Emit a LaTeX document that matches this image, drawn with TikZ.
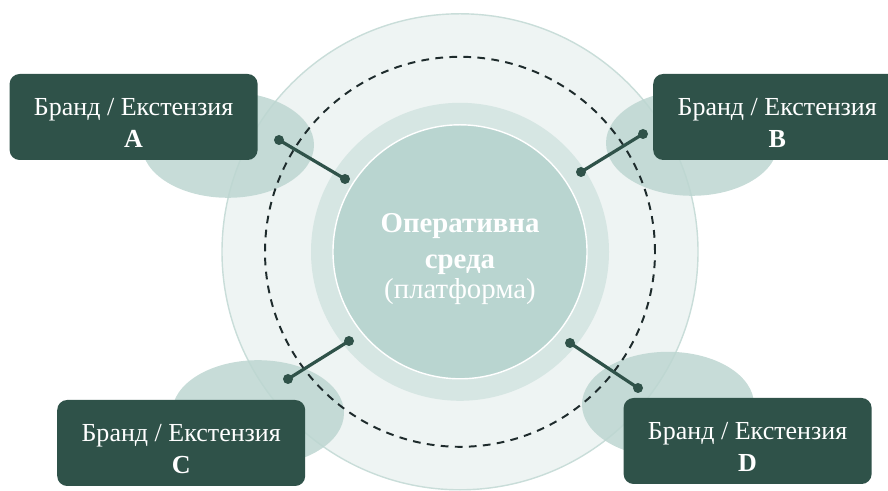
\documentclass[tikz,border=0pt]{standalone}
\usepackage{fontspec}
\setmainfont{Liberation Serif}
\definecolor{boxgreen}{HTML}{2F5249}
\definecolor{outerfill}{HTML}{EEF4F3}
\definecolor{outeredge}{HTML}{C9DDD9}
\definecolor{ringfill}{HTML}{D6E6E3}
\definecolor{corefill}{HTML}{B9D5D0}
\definecolor{blobfill}{HTML}{BDD6D1}
\definecolor{dashcol}{HTML}{1E2B2C}
\tikzset{
  brand/.style={fill=boxgreen,rounded corners=0.25cm,minimum width=6.2cm,minimum height=2.15cm,
    inner sep=0pt,align=center,text=white,font=\fontsize{18.5}{22.8}\selectfont},
  blob/.style={fill=blobfill,fill opacity=0.85},
  link/.style={boxgreen,line width=2.3pt},
  dot/.style={fill=boxgreen}
}

\begin{document}
\begin{tikzpicture}[line cap=round,line join=round]
  \useasboundingbox (0,0) rectangle (22.20,12.275);
  \coordinate (O) at (11.50,5.98);
  \draw[fill=outerfill,draw=outeredge,line width=1pt] (O) circle (5.95);
  \fill[ringfill] (O) circle (3.725);
  \node[circle,fill=corefill,draw=white,line width=1pt,minimum size=6.35cm,inner sep=0pt,
    align=center,text=white,font=\fontsize{20.5}{21.5}\selectfont] (core) at (O)
    {\rule{0pt}{24pt}\textbf{Оперативна}\\[4pt]\textbf{среда}\\(платформа)};
  \fill[blob] (5.70,8.65) ellipse (2.15 and 1.32);
  \fill[blob] (17.30,8.70) ellipse (2.15 and 1.32);
  \fill[blob] (6.45,1.95) ellipse (2.15 and 1.32);
  \fill[blob] (16.70,2.16) ellipse (2.15 and 1.32);
  \draw[dashcol,line width=1.4pt,line cap=butt,dash pattern=on 5.5pt off 4.5pt] (O) circle (4.875);
  \node[brand] (bA) at (3.34,9.35) {\rule{0pt}{21pt}Бранд / Екстензия\\\textbf{A}};
  \node[brand] (bB) at (19.43,9.35) {\rule{0pt}{21pt}Бранд / Екстензия\\\textbf{B}};
  \node[brand] (bC) at (4.53,1.20) {\rule{0pt}{21pt}Бранд / Екстензия\\\textbf{C}};
  \node[brand] (bD) at (18.69,1.25) {\rule{0pt}{21pt}Бранд / Екстензия\\\textbf{D}};
  \coordinate (a1) at (6.975,8.775);
  \coordinate (a2) at (8.625,7.80);
  \coordinate (b1) at (16.075,8.925);
  \coordinate (b2) at (14.525,7.975);
  \coordinate (c1) at (8.725,3.75);
  \coordinate (c2) at (7.20,2.80);
  \coordinate (d1) at (14.25,3.70);
  \coordinate (d2) at (15.95,2.575);
  \draw[link] (a1) -- (a2);
  \draw[link] (b1) -- (b2);
  \draw[link] (c1) -- (c2);
  \draw[link] (d1) -- (d2);
  \fill[dot] (a1) circle (0.125);
  \fill[dot] (a2) circle (0.125);
  \fill[dot] (b1) circle (0.125);
  \fill[dot] (b2) circle (0.125);
  \fill[dot] (c1) circle (0.125);
  \fill[dot] (c2) circle (0.125);
  \fill[dot] (d1) circle (0.125);
  \fill[dot] (d2) circle (0.125);
\end{tikzpicture}
\end{document}
